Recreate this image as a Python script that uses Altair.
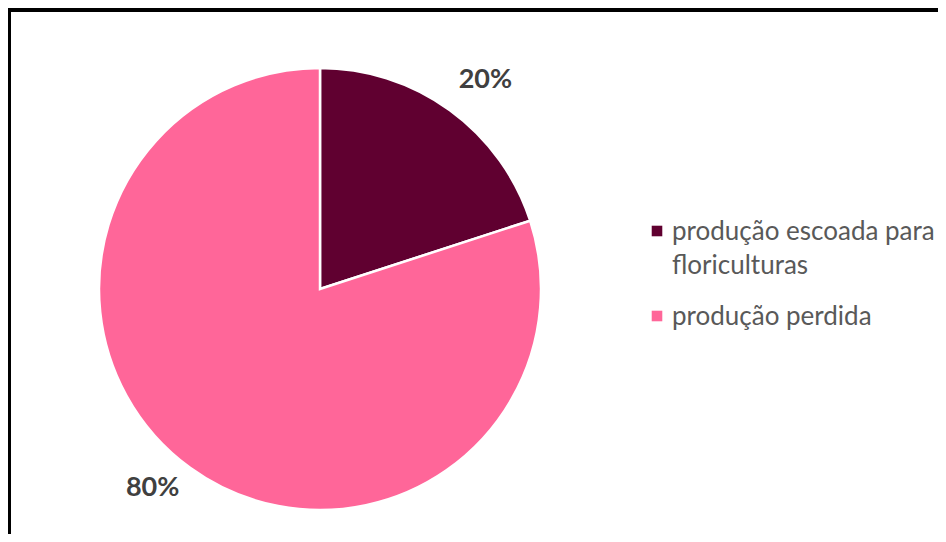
import altair as alt
import pandas as pd

categories = ["produção escoada para floriculturas", "produção perdida"]
legend_text = ["produção escoada para\nfloriculturas", "produção perdida"]
values = [20, 80]
labels = ["20%", "80%"]
colors = ["#600030", "#FF6699"]

df = pd.DataFrame({"cat": categories, "val": values, "lab": labels,
                   "leg": legend_text, "ord": [0, 1]})

CX, CY, R = 312, 281, 221

color = alt.Color("cat:N", scale=alt.Scale(domain=categories, range=colors), legend=None)

pie = alt.Chart(df).mark_arc(outerRadius=R, stroke="white", strokeWidth=2.5).encode(
    theta=alt.Theta("val:Q", stack=True),
    order=alt.Order("ord:Q"),
    x=alt.value(CX), y=alt.value(CY), color=color,
)

lab_base = alt.Chart(df).transform_window(
    cum="sum(val)", sort=[alt.SortField("ord")], frame=[None, 0]
).transform_calculate(
    mid="datum.cum - datum.val / 2"
)

lab_style = dict(radius=266, font="Lato", fontSize=27, fontWeight="bold", color="#404040")
theta_mid = alt.Theta("mid:Q", stack=None, scale=alt.Scale(domain=[0, 100], range=[0, 6.283185307179586]))

text20 = lab_base.transform_filter(alt.datum.ord == 0).mark_text(dx=9, dy=6, **lab_style).encode(
    theta=theta_mid, x=alt.value(CX), y=alt.value(CY), text="lab:N"
)
text80 = lab_base.transform_filter(alt.datum.ord == 1).mark_text(dx=-11, dy=-16, **lab_style).encode(
    theta=theta_mid, x=alt.value(CX), y=alt.value(CY), text="lab:N"
)

leg_sq = alt.Chart(df).mark_square(size=112, opacity=1).encode(
    x=alt.value(649),
    y=alt.Y("ord:Q", scale=alt.Scale(domain=[0, 1], range=[223, 308]), axis=None),
    color=color,
)
leg_tx = alt.Chart(df).mark_text(
    align="left", baseline="alphabetic", font="Lato", fontSize=26,
    color="#595959", lineBreak="\n", lineHeight=34,
).encode(
    x=alt.value(664),
    y=alt.Y("ord:Q", scale=alt.Scale(domain=[0, 1], range=[232, 317]), axis=None),
    text="leg:N",
)

top_rule = alt.Chart(df).mark_rule(color="black", strokeWidth=4).encode(
    x=alt.value(0), x2=alt.value(930), y=alt.value(2)
)
left_rule = alt.Chart(df).mark_rule(color="black", strokeWidth=4).encode(
    x=alt.value(1), y=alt.value(0), y2=alt.value(526)
)

chart = alt.layer(pie, text20, text80, leg_sq, leg_tx, top_rule, left_rule).resolve_scale(
    y="independent", theta="independent"
).properties(
    width=930, height=526, padding=0, autosize=alt.AutoSizeParams(type="none"),
    background="white",
).configure_view(stroke=None)

chart.save("out.html", embed_options={"renderer": "svg", "actions": False})
